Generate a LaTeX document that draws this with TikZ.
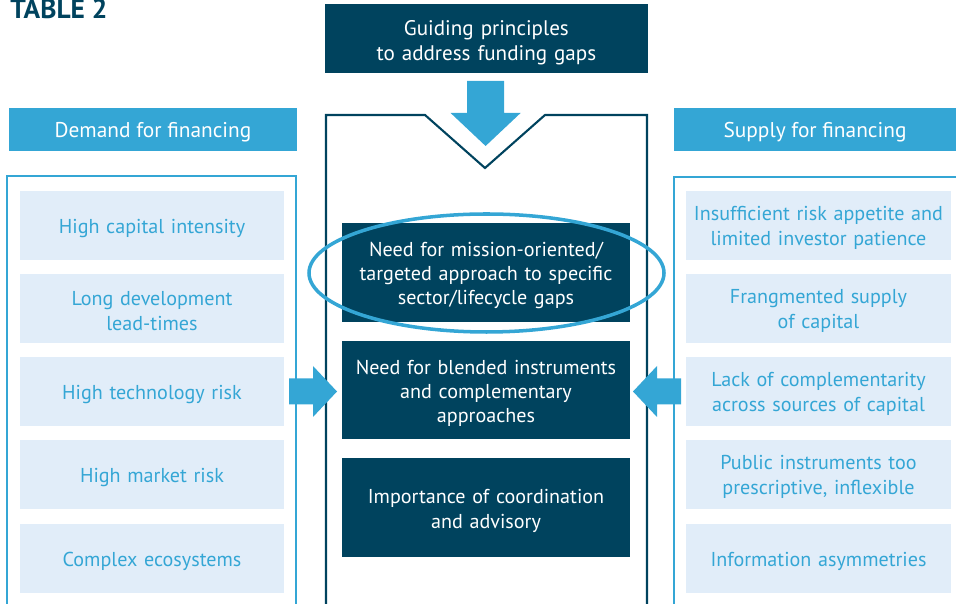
\documentclass[tikz,border=0pt]{standalone}
\usepackage{fontspec}
\setmainfont{PT Sans}
\usepackage{xcolor}
\definecolor{navy}{RGB}{0,67,94}
\definecolor{sky}{RGB}{52,166,213}
\definecolor{pale}{RGB}{225,237,249}
\usetikzlibrary{shapes.geometric}

\begin{document}
\begin{tikzpicture}[
		hdrnode/.style={fill=sky, text=white, inner sep=0pt, minimum height=1.075cm, font=\fontsize{15.2}{18}\selectfont, execute at begin node={\rule{0pt}{14.5pt}}},
		gapnode/.style={fill=pale, text=sky, inner sep=0pt, text width=6.6cm, align=center, minimum height=1.725cm, font=\fontsize{14.3}{17.6}\selectfont, execute at begin node={\rule{0pt}{14pt}}},
		prinnode/.style={fill=navy, text=white, inner sep=0pt, text width=7.2cm, align=center, minimum height=2.46cm, font=\fontsize{14.3}{17.1}\selectfont, execute at begin node={\rule{0pt}{15pt}}},
		frameline/.style={line width=1.5pt}
	]

	\useasboundingbox (0,0) rectangle (23.9,15.1);

	\node[anchor=base west, inner sep=0pt, text=navy, font=\fontsize{19.5}{22}\selectfont\bfseries] (title) at (0.25,14.63) {TABLE 2};

	\node[fill=navy, text=white, inner sep=0pt, text width=8.075cm, align=center, minimum height=1.725cm, font=\fontsize{15}{18}\selectfont, execute at begin node={\rule{0pt}{17pt}}] (guide) at (12.16,14.14) {Guiding principles\\to address funding gaps};

	\node[hdrnode, minimum width=7.2cm] (demand) at (3.825,11.8625) {Demand for financing};
	\node[hdrnode, minimum width=7.05cm] (supply) at (20.375,11.8625) {Supply for financing};

	\draw[frameline, color = sky] (0.175,0) |- (7.4,10.7) -- (7.4,0);
	\draw[frameline, color = sky] (16.85,0) |- (24.2,10.675);
	\draw[frameline, color = navy] (8.15,0) |- (10.625,12.225) -- (12.125,10.9) -- (13.625,12.225) -| (16.175,0);

	\node[gapnode] (d1) at (3.8,9.4625) {High capital intensity};
	\node[gapnode] (d2) at (3.8,7.3875) {Long development\\lead-times};
	\node[gapnode] (d3) at (3.8,5.3125) {High technology risk};
	\node[gapnode] (d4) at (3.8,3.2375) {High market risk};
	\node[gapnode] (d5) at (3.8,1.1375) {Complex ecosystems};

	\node[gapnode, text width=6.625cm] (s1) at (20.4625,9.4625) {Insufficient risk appetite and\\limited investor patience};
	\node[gapnode, text width=6.625cm] (s2) at (20.4625,7.3875) {Frangmented supply\\of capital};
	\node[gapnode, text width=6.625cm] (s3) at (20.4625,5.3125) {Lack of complementarity\\across sources of capital};
	\node[gapnode, text width=6.625cm] (s4) at (20.4625,3.2375) {Public instruments too\\prescriptive, inflexible};
	\node[gapnode, text width=6.625cm] (s5) at (20.4625,1.1375) {Information asymmetries};

	\node[prinnode] (p1) at (12.15,8.2875) {Need for mission-oriented/\\targeted approach to specific\\sector/lifecycle gaps};
	\node[prinnode] (p2) at (12.15,5.35) {Need for blended instruments\\and complementary\\approaches};
	\node[prinnode] (p3) at (12.15,2.4125) {Importance of coordination\\and advisory};

	\node[ellipse, draw=sky, line width=2.5pt, minimum width=8.875cm, minimum height=2.95cm] (ring) at (12.1625,8.275) {};

	\coordinate (dtip) at (12.14,11.45);
	\coordinate (ltip) at (8.425,5.3125);
	\coordinate (rtip) at (15.825,5.3125);

	\fill[color = sky] (dtip) -- ++(-0.875,0.825) -- ++(0.4125,0) -- ++(0,0.8) -- ++(0.925,0) -- ++(0,-0.8) -- ++(0.4125,0) -- cycle;
	\fill[color = sky] (ltip) -- ++(-0.6,0.6375) -- ++(0,-0.3125) -- ++(-0.6,0) -- ++(0,-0.65) -- ++(0.6,0) -- ++(0,-0.3125) -- cycle;
	\fill[color = sky] (rtip) -- ++(0.6,0.6375) -- ++(0,-0.3125) -- ++(0.6,0) -- ++(0,-0.65) -- ++(-0.6,0) -- ++(0,-0.3125) -- cycle;

\end{tikzpicture}
\end{document}
